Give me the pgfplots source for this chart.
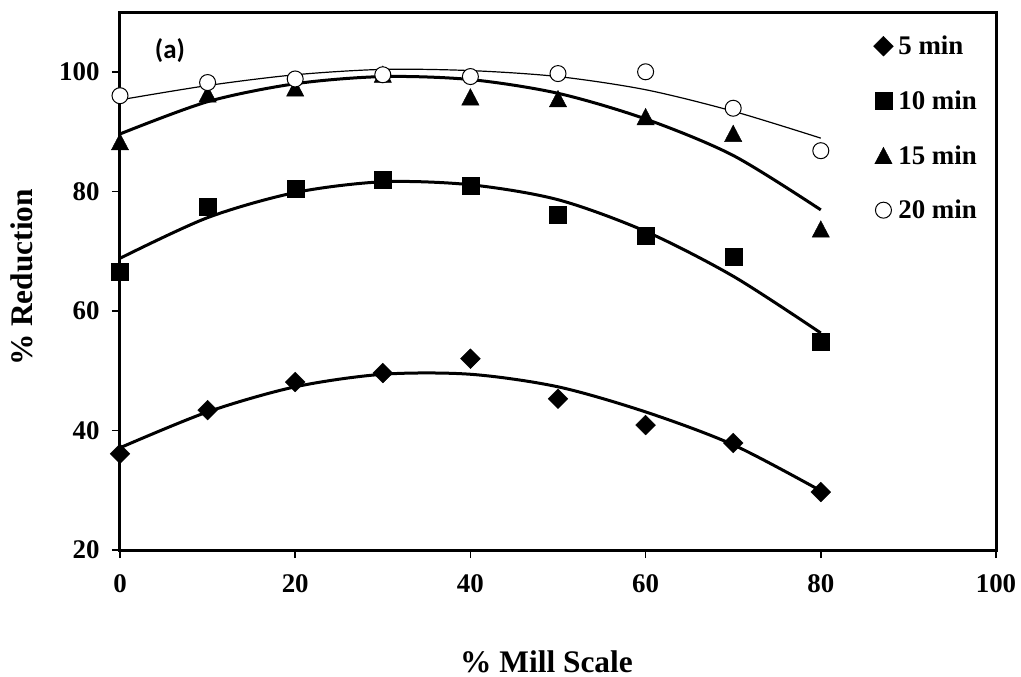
\documentclass[border=0pt]{standalone}
\usepackage{fontspec}
\setmainfont{Liberation Serif}
\newfontfamily\calibri{Carlito}
\usepackage{pgfplots}
\pgfplotsset{compat=1.18}
\begin{document}
\begin{tikzpicture}
\path[use as bounding box] (-120bp,-127bp) rectangle (901bp,550bp);
\begin{axis}[
  at={(0,0)}, anchor=south west,
  scale only axis, width=876bp, height=538bp,
  xmin=0, xmax=100, ymin=20, ymax=110,
  xtick={0,20,...,100}, ytick={20,40,...,100},
  tick pos=left, tick align=outside, major tick length=8bp,
  every tick/.style={black, line width=1.5bp},
  axis line style={line width=3bp},
  /pgf/number format/assume math mode=true,
  tick label style={font=\fontsize{27}{30}\selectfont\bfseries},
  xticklabel style={yshift=-13bp},
  yticklabel style={xshift=-9bp},
  xlabel={\% Mill Scale},
  ylabel={\% Reduction},
  label style={font=\fontsize{31.5}{36}\selectfont\bfseries},
  xlabel style={at={([yshift=-122bp]rel axis cs:0.4869,0)}, anchor=base},
  ylabel style={at={([xshift=-87bp]rel axis cs:0,0.5065)}, anchor=base},
  legend image code/.code={\draw[#1] plot coordinates {(0bp,0bp)};},
  legend cell align=left,
  legend style={draw=none, fill=none, at={(axis cs:86,106)}, anchor=north west,
    inner sep=0pt, row sep=34.5bp, column sep=5bp,
    font=\fontsize{27}{30}\selectfont\bfseries, nodes={inner sep=0pt}},
]
% data markers
\addplot[only marks, mark=square*, mark size=7bp, mark options={rotate=45, fill=black, draw=black}]
  coordinates {(0,36.1)(10,43.4)(20,48.1)(30,49.6)(40,52.0)(50,45.3)(60,40.9)(70,37.9)(80,29.7)};
\addlegendentry{5 min}
\addplot[only marks, mark=square*, mark size=8.5bp, mark options={fill=black, draw=black}]
  coordinates {(0,66.5)(10,77.4)(20,80.4)(30,81.9)(40,81.0)(50,76.1)(60,72.6)(70,69.0)(80,54.9)};
\addlegendentry{10 min}
\addplot[only marks, mark=triangle*, mark size=10bp, mark options={yshift=-2.75bp, yscale=1.1, fill=black, draw=black}]
  coordinates {(0,88.3)(10,96.3)(20,97.3)(30,99.6)(40,95.8)(50,95.5)(60,92.5)(70,89.7)(80,73.7)};
\addlegendentry{15 min}
\addplot[only marks, mark=*, mark size=8bp, mark options={fill=white, draw=black, line width=1bp}]
  coordinates {(0,96.0)(10,98.2)(20,98.8)(30,99.5)(40,99.2)(50,99.7)(60,100.0)(70,93.9)(80,86.8)};
\addlegendentry{20 min}
% trend lines
\addplot[forget plot, black, line width=3bp, smooth, no marks]
  coordinates {(0,37.1)(10,43.1)(20,47.3)(30,49.4)(40,49.4)(50,47.3)(60,43.1)(70,37.6)(80,29.9)};
\addplot[forget plot, black, line width=3bp, smooth, no marks]
  coordinates {(0,68.8)(10,75.6)(20,79.8)(30,81.6)(40,81.1)(50,78.6)(60,73.3)(70,65.8)(80,56.3)};
\addplot[forget plot, black, line width=3bp, smooth, no marks]
  coordinates {(0,89.6)(10,95.0)(20,98.0)(30,99.2)(40,98.7)(50,96.4)(60,92.1)(70,86.0)(80,76.9)};
\addplot[forget plot, black, line width=1.2bp, smooth, no marks]
  coordinates {(0,95.3)(10,97.7)(20,99.5)(30,100.4)(40,100.2)(50,99.2)(60,97.0)(70,93.4)(80,88.9)};
\node[font=\fontsize{27}{32}\calibri\bfseries] at (axis cs:5.7,103.5) {(a)};
\end{axis}
\end{tikzpicture}
\end{document}
